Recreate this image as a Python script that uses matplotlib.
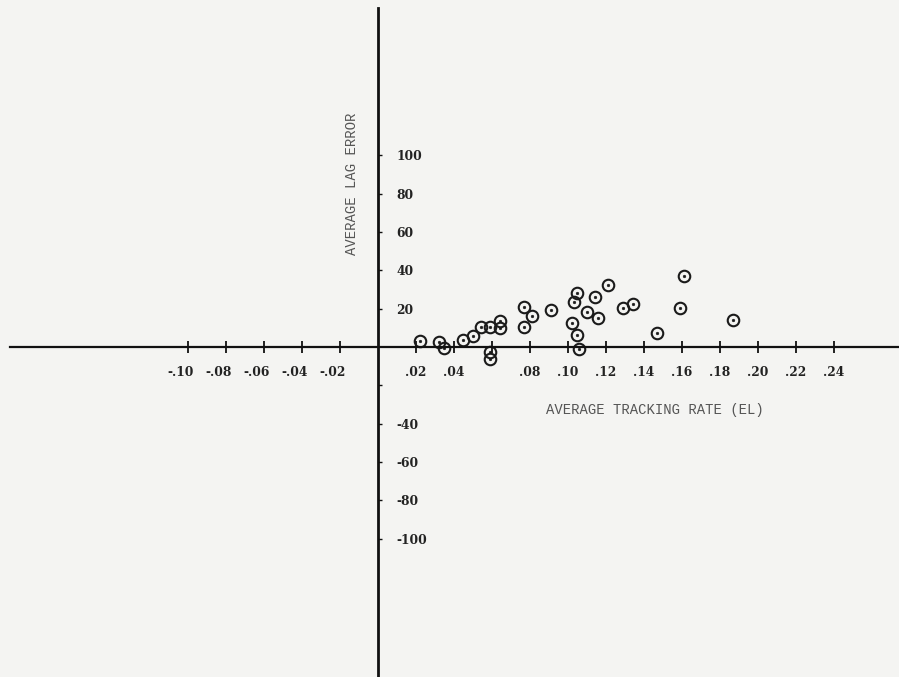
import numpy as np
import matplotlib.pyplot as plt
import matplotlib.transforms as mtransforms

# average tracking rate (EL) vs average lag error
rate = [0.022, 0.032, 0.035, 0.045, 0.050, 0.054, 0.059, 0.064, 0.064,
        0.059, 0.059, 0.077, 0.077, 0.081, 0.091, 0.103, 0.105, 0.102,
        0.105, 0.106, 0.110, 0.114, 0.116, 0.121, 0.129, 0.134, 0.147,
        0.161, 0.159, 0.187]
lag = [3.1, 2.8, -0.7, 3.7, 5.9, 10.6, 10.6, 13.6, 9.7,
       -2.4, -6.3, 21.0, 10.6, 16.4, 19.3, 23.7, 28.0, 12.4,
       6.3, -1.2, 18.1, 26.3, 15.3, 32.4, 20.5, 22.3, 7.5,
       37.1, 20.2, 14.1]

xticks = [-0.10, -0.08, -0.06, -0.04, -0.02, 0.02, 0.04, 0.06, 0.08,
          0.10, 0.12, 0.14, 0.16, 0.18, 0.20, 0.22, 0.24]
xtick_labels = ['-.10', '-.08', '-.06', '-.04', '-.02', '.02', '.04', '',
                '.08', '.10', '.12', '.14', '.16', '.18', '.20', '.22', '.24']
yticks = [-100, -80, -60, -40, -20, 20, 40, 60, 80, 100]
ytick_labels = ['-100', '-80', '-60', '-40', '', '20', '40', '60', '80', '100']

fig = plt.figure(figsize=(8.99, 6.77), dpi=100, facecolor='#f4f4f2')
ax = fig.add_axes([0, 0, 1, 1])
ax.set_facecolor('#f4f4f2')

ax.set_xlim(-378 / 1900, 521 / 1900)
ax.set_ylim(-330 / 1.915, 347 / 1.915)

for s in ['top', 'left']:
    ax.spines[s].set_visible(False)
ax.spines['bottom'].set_position(('data', 0))
ax.spines['right'].set_position(('data', 0))
ax.spines['bottom'].set_bounds(-0.1937, 0.2742)
ax.spines['right'].set_bounds(-172.3, 177)
ax.spines['bottom'].set_linewidth(1.6)
ax.spines['right'].set_linewidth(2.0)
ax.spines['bottom'].set_color('#111111')
ax.spines['right'].set_color('#111111')

ax.yaxis.set_ticks_position('right')
ax.xaxis.set_ticks_position('bottom')

tick_font = dict(family='DejaVu Serif', weight='bold', size=8.8)
ax.set_xticks(xticks)
ax.set_xticklabels(xtick_labels, color='#222222', **tick_font)
ax.set_yticks(yticks)
ax.set_yticklabels(ytick_labels, color='#222222', **tick_font)
ax.tick_params(axis='x', direction='inout', length=8, width=1.3, pad=10,
               color='#111111')
ax.tick_params(axis='y', direction='out', length=3, width=1.0, pad=10,
               color='#111111')

# the negative labels sit a little left of their ticks in the original
shift = mtransforms.ScaledTranslation(-7 / 100, 0, fig.dpi_scale_trans)
for v, lbl in zip(xticks, ax.get_xticklabels()):
    if v < 0:
        lbl.set_transform(lbl.get_transform() + shift)

ax.plot(rate, lag, 'o', ms=8.3, mfc='none', mec='#1a1a1a', mew=1.5)
ax.plot(rate, lag, 'o', ms=2.0, mfc='#1a1a1a', mec='#1a1a1a', mew=0.3)

label_font = dict(family='Liberation Mono', size=10, color='#555555')
ax.text(0.1455, -33, 'AVERAGE TRACKING RATE (EL)', ha='center', va='center',
        **label_font)
ax.text(-0.0137, 85, 'AVERAGE LAG ERROR', rotation=90, ha='center',
        va='center', **label_font)

fig.savefig('out.png', dpi=100, facecolor=fig.get_facecolor())
